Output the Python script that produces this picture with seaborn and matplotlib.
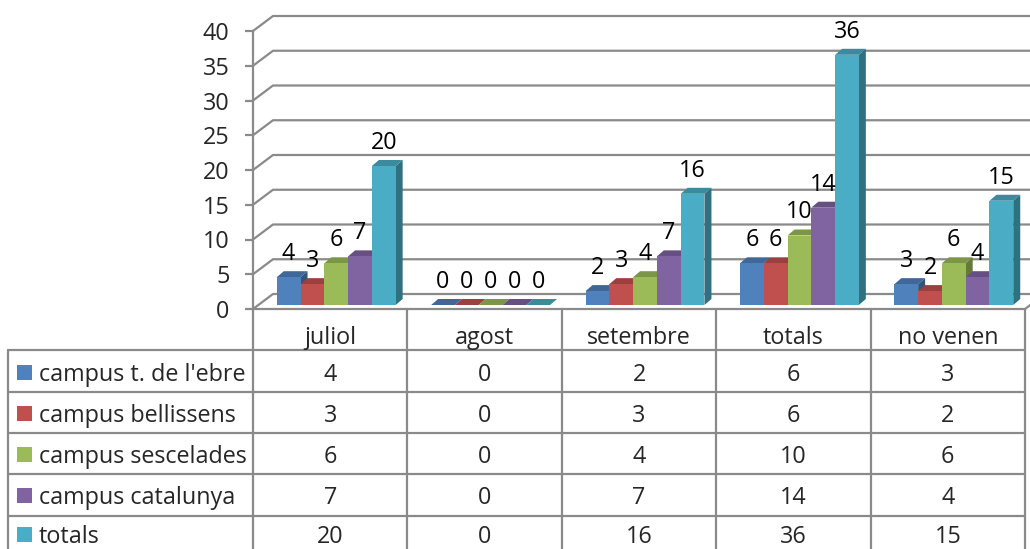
import numpy as np
import pandas as pd
import matplotlib
matplotlib.use('Agg')
import matplotlib.pyplot as plt
import seaborn as sns
from matplotlib.transforms import offset_copy, IdentityTransform
from matplotlib.patches import Polygon, Rectangle
from matplotlib.lines import Line2D
import matplotlib.colors as mcolors

# ---------------- data ----------------
months = ['juliol', 'agost', 'setembre', 'totals', 'no venen']
series = ["campus t. de l'ebre", 'campus bellissens', 'campus sescelades',
          'campus catalunya', 'totals']
ebre = [4, 0, 2, 6, 3]
bellissens = [3, 0, 3, 6, 2]
sescelades = [6, 0, 4, 10, 6]
catalunya = [7, 0, 7, 14, 4]
totals = [20, 0, 16, 36, 15]
yticks = [0, 5, 10, 15, 20, 25, 30, 35, 40]
colors = ['#4F81BD', '#C0504D', '#9BBB59', '#8064A2', '#4BACC6']

values = [ebre, bellissens, sescelades, catalunya, totals]
rows = []
for s, vals in zip(series, values):
    for m, v in zip(months, vals):
        rows.append({'month': m, 'series': s, 'value': v})
df = pd.DataFrame(rows)

# ---------------- style ----------------
sns.set_style('white')
plt.rcParams['font.family'] = ['Open Sans', 'DejaVu Sans']
FS = 16.8
GRID = '#8a8a8a'
LW = 1.6

W, H = 1030, 549
fig = plt.figure(figsize=(W / 100, H / 100), dpi=100)
ax_left, ax_right, ax_top, ax_bot = 253, 1025, 31, 309
ax = fig.add_axes([ax_left / W, (H - ax_bot) / H, (ax_right - ax_left) / W, (ax_bot - ax_top) / H])
ax.patch.set_alpha(0)

sns.barplot(data=df, x='month', y='value', hue='series', hue_order=series,
            order=months, palette=colors, width=0.77, saturation=1,
            errorbar=None, legend=False, ax=ax)

ax.set_autoscale_on(False)
ax.set_xlim(-0.5, len(months) - 0.5)
ax.set_ylim(yticks[0], yticks[-1])
ax.set_yticks(yticks)
ax.set_xticks([])
ax.set_xlabel('')
ax.set_ylabel('')
for sp in ['top', 'right']:
    ax.spines[sp].set_visible(False)
for sp in ['left', 'bottom']:
    ax.spines[sp].set_color(GRID)
    ax.spines[sp].set_linewidth(LW)
ax.tick_params(axis='y', left=True, length=6, width=LW, color=GRID, pad=11,
               labelsize=FS, direction='out')
for lab in ax.get_yticklabels():
    lab.set_verticalalignment('center_baseline')

ident = IdentityTransform()

# ---------------- 3D wall gridlines ----------------
WDX, WDY = 20, 15
for t in yticks:
    p = ax.transData.transform((-0.5, t))
    xs = [p[0], p[0] + WDX, W + 5]
    ys = [p[1], p[1] + WDY, p[1] + WDY]
    ax.add_line(Line2D(xs, ys, transform=ident, color=GRID, lw=LW, clip_on=False, zorder=0.5))
# floor right edge
q = ax.transData.transform((len(months) - 0.5, 0))
ax.add_line(Line2D([q[0], q[0] + WDX], [q[1], q[1] + WDY], transform=ident,
                   color=GRID, lw=LW, clip_on=False, zorder=0.5))

# ---------------- 3D bars ----------------
BSX, BSY = 6, 4     # shift of bar front plane
BDX, BDY = 7, 6     # bar depth
shift_tr = offset_copy(ax.transData, fig=fig, x=BSX, y=BSY, units='dots')
bars = sorted([p for p in ax.patches if isinstance(p, Rectangle)], key=lambda r: r.get_x())


def shade(c, f):
    r, g, b = mcolors.to_rgb(c)
    return (r * f, g * f, b * f)


for k, bar in enumerate(bars):
    j, i = divmod(k, len(series))
    col = colors[i]
    base = 2 + k * 0.01
    bar.set_transform(shift_tr)
    bar.set_facecolor(col)
    bar.set_edgecolor('none')
    bar.set_linewidth(0)
    bar.set_zorder(base + 0.005)
    x0, x1 = bar.get_x(), bar.get_x() + bar.get_width()
    y0, y1 = 0, values[i][j]
    (px0, py0) = shift_tr.transform((x0, y0))
    (px1, py1) = shift_tr.transform((x1, y1))
    top = Polygon([(px0, py1), (px1, py1), (px1 + BDX, py1 + BDY), (px0 + BDX, py1 + BDY)],
                  closed=True, transform=ident, facecolor=shade(col, 0.8), edgecolor='none',
                  clip_on=False, zorder=base)
    side = Polygon([(px1, py0), (px1, py1), (px1 + BDX, py1 + BDY), (px1 + BDX, py0 + BDY)],
                   closed=True, transform=ident, facecolor=shade(col, 0.65), edgecolor='none',
                   clip_on=False, zorder=base)
    ax.add_patch(side)
    ax.add_patch(top)
    ax.annotate(str(values[i][j]), xy=((x0 + x1) / 2, y1), xytext=(BSX, BSY + 26),
                textcoords='offset pixels', ha='center', va='center_baseline', fontsize=FS,
                color='black', zorder=10, annotation_clip=False)

# ---------------- data table ----------------
col_edges = [ax.transData.transform((x, 0))[0] for x in np.arange(-0.5, len(months), 1.0)]
table_left = 8
header_c = 335
row_lines = [350, 392, 433, 474, 516]
row_centers = [372, 413, 454, 495, 534]


def fig_line(xs, ys_top):
    fig.add_artist(Line2D(xs, [H - y for y in ys_top], transform=ident, color=GRID, lw=LW))


# verticals
for cx in col_edges:
    fig_line([cx, cx], [ax_bot, H + 5])
fig_line([table_left, table_left], [row_lines[0], H + 5])
# horizontals
for ry in row_lines:
    fig_line([table_left, col_edges[-1]], [ry, ry])

for j, m in enumerate(months):
    cx = (col_edges[j] + col_edges[j + 1]) / 2
    fig.text(cx / W, 1 - header_c / H, m, ha='center', va='center_baseline', fontsize=FS)

for i, (s, vals) in enumerate(zip(series, values)):
    cy = row_centers[i]
    fig.add_artist(Rectangle((17, H - cy - 7.5), 15, 15, transform=ident,
                             facecolor=colors[i], edgecolor='none'))
    fig.text(39 / W, 1 - cy / H, s, ha='left', va='center_baseline', fontsize=FS)
    for j, v in enumerate(vals):
        cx = (col_edges[j] + col_edges[j + 1]) / 2
        fig.text(cx / W, 1 - cy / H, str(v), ha='center', va='center_baseline', fontsize=FS)

fig.savefig('out.png', dpi=100, facecolor='white')
